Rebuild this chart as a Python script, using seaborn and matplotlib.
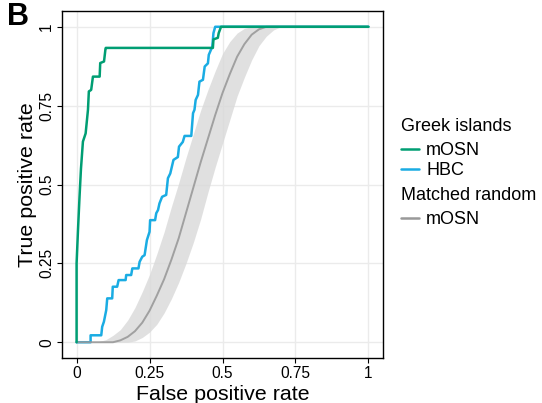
import matplotlib
matplotlib.use("Agg")
import matplotlib.pyplot as plt
import seaborn as sns
import pandas as pd
from matplotlib.lines import Line2D

# ---- data ----
greek_mosn_fpr = [0, 0, 0.005, 0.010, 0.015, 0.0217, 0.031, 0.039, 0.042, 0.050, 0.056, 0.079, 0.081,
                  0.094, 0.099, 0.100, 0.467, 0.469, 0.484, 0.487, 0.495, 1.0]
greek_mosn_tpr = [0, 0.25, 0.36, 0.46, 0.55, 0.636, 0.662, 0.737, 0.795, 0.80, 0.842, 0.842, 0.885,
                  0.89, 0.93, 0.933, 0.933, 0.96, 0.965, 0.98, 1.0, 1.0]

greek_hbc_fpr = [0, 0.048, 0.048, 0.0845, 0.0877, 0.0936, 0.1016, 0.105, 0.122, 0.124, 0.139, 0.144,
                 0.168, 0.170, 0.187, 0.191, 0.212, 0.216, 0.225, 0.233, 0.241, 0.250, 0.252, 0.269,
                 0.273, 0.279, 0.284, 0.293, 0.307, 0.313, 0.321, 0.332, 0.347, 0.351, 0.364, 0.370,
                 0.393, 0.399, 0.404, 0.408, 0.416, 0.421, 0.433, 0.439, 0.450, 0.453, 0.465, 0.469,
                 0.475, 1.0]
greek_hbc_tpr = [0, 0, 0.022, 0.022, 0.049, 0.065, 0.102, 0.139, 0.139, 0.176, 0.176, 0.197,
                 0.197, 0.213, 0.213, 0.234, 0.234, 0.255, 0.271, 0.276, 0.324, 0.350, 0.387, 0.387,
                 0.409, 0.419, 0.440, 0.461, 0.467, 0.520, 0.535, 0.578, 0.587, 0.620, 0.635, 0.654,
                 0.654, 0.726, 0.737, 0.768, 0.784, 0.826, 0.832, 0.874, 0.884, 0.911, 0.937, 0.980,
                 1.0, 1.0]

random_fpr = [0, 0.025, 0.05, 0.075, 0.1, 0.125, 0.15, 0.175, 0.2, 0.225, 0.25, 0.275, 0.3, 0.325,
              0.35, 0.375, 0.4, 0.425, 0.45, 0.475, 0.5, 0.525, 0.55, 0.575, 0.6, 0.625, 0.65,
              0.675, 0.7, 1.0]
random_mean = [0, 0, 0, 0, 0, 0, 0.006, 0.017, 0.035, 0.062, 0.10, 0.148, 0.20, 0.262,
               0.33, 0.41, 0.49, 0.57, 0.645, 0.72, 0.79, 0.85, 0.905, 0.945, 0.975, 0.992, 1.0,
               1.0, 1.0, 1.0]
random_hi = [0, 0, 0, 0.002, 0.008, 0.022, 0.04, 0.07, 0.11, 0.16, 0.215, 0.28, 0.35, 0.43,
             0.505, 0.585, 0.66, 0.735, 0.80, 0.86, 0.915, 0.953, 0.98, 0.995, 1.0, 1.0, 1.0,
             1.0, 1.0, 1.0]
random_lo = [0, 0, 0, 0, 0, 0, 0, 0, 0.004, 0.015, 0.032, 0.057, 0.093, 0.138,
             0.19, 0.25, 0.316, 0.39, 0.475, 0.555, 0.63, 0.705, 0.78, 0.84, 0.895, 0.94, 0.97,
             0.99, 1.0, 1.0]

ticks = [0, 0.25, 0.5, 0.75, 1]
tick_labels = ["0", "0.25", "0.5", "0.75", "1"]

GREEN = "#009E73"
BLUE = "#1AACE3"
GRAY = "#999999"

sns.set_theme(style="white")
plt.rcParams["font.family"] = ["Liberation Sans", "DejaVu Sans"]
plt.rcParams["text.color"] = "black"

fig = plt.figure(figsize=(5.42, 4.03), dpi=100)
ax = fig.add_axes([62 / 542, 45 / 403, 321 / 542, 347 / 403])

df_g = pd.DataFrame({"fpr": greek_mosn_fpr, "tpr": greek_mosn_tpr})
df_h = pd.DataFrame({"fpr": greek_hbc_fpr, "tpr": greek_hbc_tpr})
df_r = pd.DataFrame({"fpr": random_fpr, "mean": random_mean, "lo": random_lo, "hi": random_hi})

LW = 1.8
ax.fill_between(df_r["fpr"], df_r["lo"], df_r["hi"], color="#D9D9D9", alpha=0.8, linewidth=0, zorder=1)
sns.lineplot(data=df_h, x="fpr", y="tpr", estimator=None, sort=False, color=BLUE, linewidth=LW, ax=ax, zorder=2)
sns.lineplot(data=df_r, x="fpr", y="mean", estimator=None, sort=False, color=GRAY, linewidth=1.4, alpha=0.9, ax=ax, zorder=3)
sns.lineplot(data=df_g, x="fpr", y="tpr", estimator=None, sort=False, color=GREEN, linewidth=LW, ax=ax, zorder=4)

ax.set_xlim(-0.05, 1.05)
ax.set_ylim(-0.05, 1.05)
ax.set_xticks(ticks)
ax.set_xticklabels(tick_labels)
ax.set_yticks(ticks)
ax.set_yticklabels(tick_labels, rotation=90, va="center")
ax.grid(True, color="#EBEBEB", linewidth=1.0, zorder=0)
ax.set_axisbelow(True)
for s in ax.spines.values():
    s.set_color("black")
    s.set_linewidth(1.0)
ax.tick_params(axis="both", which="major", direction="out", length=3.5, width=0.8,
               color="black", labelsize=11.2, labelcolor="black", pad=2, bottom=True, left=True)
ax.set_xlabel("False positive rate", fontsize=15.4, color="black", labelpad=3)
ax.set_ylabel("True positive rate", fontsize=15.4, color="black", labelpad=2)

fig.text(7 / 542, 1 - 2 / 403, "B", fontsize=22, fontweight="bold", va="top", ha="left", color="black")

LEGFS = 13
common = dict(loc="upper left", frameon=False, fontsize=LEGFS, title_fontsize=LEGFS,
              handlelength=1.0, handletextpad=0.4, labelspacing=0.155, borderpad=0,
              borderaxespad=0, alignment="left", labelcolor="black")
h1 = [Line2D([], [], color=GREEN, lw=LW), Line2D([], [], color=BLUE, lw=LW)]
leg1 = fig.legend(h1, ["mOSN", "HBC"], title="Greek islands",
                  bbox_to_anchor=(401 / 542, 1 - 118 / 403), **common)
leg1._legend_box.sep = 5.3
h2 = [Line2D([], [], color=GRAY, lw=LW)]
leg2 = fig.legend(h2, ["mOSN"], title="Matched random",
                  bbox_to_anchor=(401 / 542, 1 - 187 / 403), **common)
leg2._legend_box.sep = 5.3

fig.savefig("out.png", dpi=100)
